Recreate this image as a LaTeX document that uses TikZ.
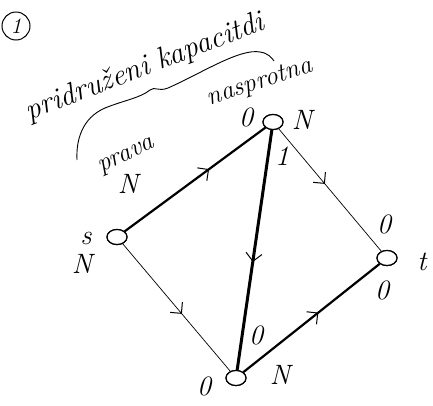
\documentclass[tikz,border=0pt]{standalone}
\usetikzlibrary{decorations.markings,arrows.meta,shapes.geometric}
\begin{document}
\begin{tikzpicture}[x=1pt,y=-1pt,
  vtx/.style={draw,ellipse,line width=1.2pt,minimum width=20pt,minimum height=15pt,inner sep=0pt,fill=white},
  lbl/.style={font=\fontsize{28}{30}\selectfont\itshape,inner sep=0pt},
  wrd/.style={font=\fontsize{#1}{#1}\selectfont\itshape,inner sep=0pt},
  midarr/.style={postaction={decorate},decoration={markings,mark=at position #1 with {\arrow[line width=1pt]{Straight Barb[length=8pt,width=16pt]}}}},
  thin/.style={line width=0.7pt},
  thickedge/.style={line width=2.2pt},
  vthick/.style={line width=3pt}]
\useasboundingbox (0,0) rectangle (433,405);
\node[vtx] (s) at (117,237) {};
\node[vtx] (a) at (273,122) {};
\node[vtx] (t) at (387,258) {};
\node[vtx] (b) at (236,378) {};
\draw[thickedge,midarr=0.6] (s) -- (a);
\draw[vthick,midarr=0.55] (a) -- (b);
\draw[thin,midarr=0.45] (a) -- (t);
\draw[thin,midarr=0.55] (s) -- (b);
\draw[thickedge,midarr=0.55] (b) -- (t);
\node[vtx] at (s) {};
\node[vtx] at (a) {};
\node[vtx] at (t) {};
\node[vtx] at (b) {};
\node[lbl] (ls) at (86,238) {s};
\node[lbl] (lt) at (422,262) {t};
\node[lbl] (la0) at (246,117) {0};
\node[lbl] (laN) at (302,120) {N};
\node[lbl] (l1) at (282,156) {1};
\node[lbl] (lpN) at (128,184) {N};
\node[wrd=26,rotate=25] (lprava) at (127,157) {prava};
\node[wrd=26,rotate=18] (lnas) at (260,83) {nasprotna};
\node[lbl] (lsN) at (82,264) {N};
\node[lbl] (lt0a) at (384,224) {0};
\node[lbl] (lt0b) at (382,290) {0};
\node[lbl] (lb0) at (256,335) {0};
\node[lbl] (lb0l) at (204,386) {0};
\node[lbl] (lbN) at (280,375) {N};
\node[draw,circle,line width=1pt,minimum size=28pt,inner sep=0pt,font=\fontsize{22}{24}\selectfont\itshape] (num) at (16,26) {1};
\node[wrd=30,rotate=21,anchor=base east] (title1) at (160,70) {pridruženi\kern9pt};
\node[wrd=30,rotate=21,anchor=base west] (title2) at (title1.base east) {kapacitdi};
\draw[line width=0.9pt] (77,160) .. controls (76,140) and (82,118) .. (105,108)
  .. controls (125,100) and (140,98) .. (150,90)
  .. controls (155,86) and (158,92) .. (168,88)
  .. controls (200,74) and (240,48) .. (260,52)
  .. controls (268,53) and (272,58) .. (274,61);
\end{tikzpicture}
\end{document}
